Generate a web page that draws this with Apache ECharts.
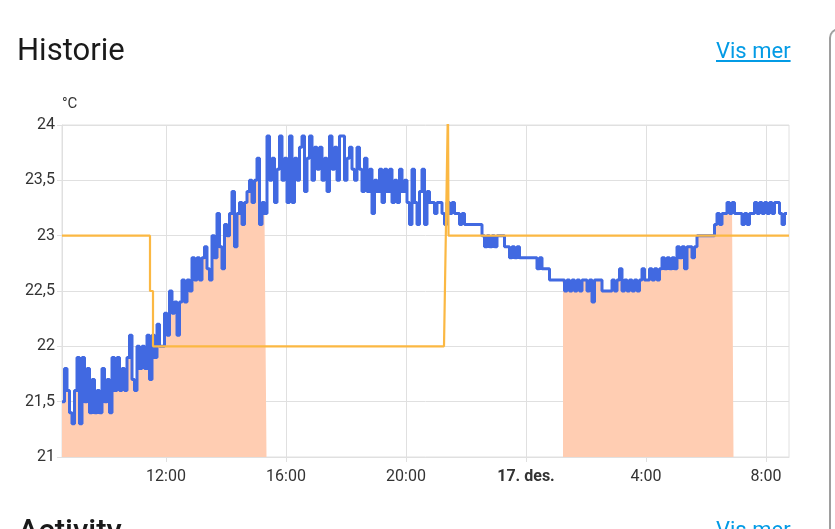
<!DOCTYPE html>
<html>
<head>
<meta charset="utf-8">
<script src="https://cdn.jsdelivr.net/npm/echarts@6/dist/echarts.min.js"></script>
<style>
  html, body { margin: 0; padding: 0; background: #fff; overflow: hidden; }
  body { width: 835px; height: 529px; position: relative; font-family: Roboto, "Noto Sans", sans-serif; }
  #chart { position: absolute; left: 0; top: 0; width: 835px; height: 529px; }
  .title { position: absolute; left: 17px; font-size: 31px; color: #1a1a1a; line-height: 1; }
  .link { position: absolute; left: 716px; font-size: 22px; color: #039be5; text-decoration: underline; line-height: 1; }
  .edge { position: absolute; left: 829px; top: 28px; width: 30px; height: 600px;
          border-left: 2px solid #9e9e9e; border-top: 2px solid #9e9e9e; border-top-left-radius: 10px; }
</style>
</head>
<body>
<div id="chart"></div>
<div class="title" style="top:34px">Historie</div>
<div class="link" style="top:40px">Vis mer</div>
<div class="title" style="top:515px;left:18px;font-weight:500">Activity</div>
<div class="link" style="top:519px">Vis mer</div>
<div class="edge"></div>
<script>
// current temperature, one reading every 5 minutes from tempStart
const tempStart = '2023-12-16T08:32:00'
const tempStepMinutes = 5
const currentTemp = [
  21.5, 21.8, 21.6, 21.4, 21.3, 21.6, 21.9, 21.3, 21.9, 21.5, 21.8, 21.4,
  21.7, 21.4, 21.6, 21.4, 21.8, 21.5, 21.7, 21.4, 21.9, 21.6, 21.9, 21.6,
  21.8, 21.6, 21.9, 22.1, 21.7, 21.6, 22.0, 21.8, 22.0, 21.8, 22.1, 21.7,
  22.1, 21.9, 22.2, 22.0, 22.0, 22.3, 22.1, 22.5, 22.3, 22.4, 22.1, 22.4,
  22.6, 22.4, 22.6, 22.5, 22.8, 22.6, 22.8, 22.6, 22.8, 22.9, 22.7, 22.6,
  23.0, 22.8, 23.2, 22.9, 22.7, 23.1, 23.0, 23.2, 23.4, 22.9, 23.2, 23.3,
  23.1, 23.3, 23.4, 23.5, 23.3, 23.5, 23.7, 23.1, 23.3, 23.2, 23.9, 23.5,
  23.7, 23.3, 23.6, 23.9, 23.5, 23.7, 23.3, 23.9, 23.3, 23.7, 23.5, 23.8,
  23.9, 23.4, 23.7, 23.9, 23.5, 23.8, 23.6, 23.8, 23.5, 23.7, 23.4, 23.9,
  23.6, 23.8, 23.5, 23.9, 23.9, 23.5, 23.7, 23.8, 23.6, 23.5, 23.8, 23.6,
  23.4, 23.7, 23.4, 23.6, 23.2, 23.5, 23.4, 23.6, 23.3, 23.6, 23.4, 23.6,
  23.3, 23.5, 23.3, 23.6, 23.4, 23.5, 23.3, 23.1, 23.6, 23.3, 23.1, 23.4,
  23.6, 23.1, 23.4, 23.3, 23.3, 23.2, 23.3, 23.3, 23.2, 23.1, 23.3, 23.2,
  23.3, 23.2, 23.2, 23.1, 23.2, 23.1, 23.1, 23.1, 23.1, 23.1, 23.1, 23.1,
  23.0, 22.9, 23.0, 22.9, 23.0, 22.9, 23.0, 23.0, 23.0, 22.9, 22.9, 22.8,
  22.9, 22.8, 22.9, 22.8, 22.8, 22.8, 22.8, 22.8, 22.8, 22.8, 22.7, 22.8,
  22.7, 22.7, 22.7, 22.6, 22.6, 22.6, 22.6, 22.6, 22.6, 22.5, 22.6, 22.5,
  22.6, 22.5, 22.6, 22.5, 22.6, 22.6, 22.5, 22.6, 22.4, 22.6, 22.6, 22.6,
  22.5, 22.5, 22.5, 22.5, 22.6, 22.5, 22.6, 22.7, 22.5, 22.6, 22.5, 22.6,
  22.5, 22.6, 22.5, 22.6, 22.7, 22.6, 22.6, 22.7, 22.6, 22.7, 22.6, 22.7,
  22.8, 22.7, 22.8, 22.7, 22.8, 22.7, 22.9, 22.8, 22.9, 22.7, 22.9, 22.9,
  22.8, 22.9, 23.0, 23.0, 23.0, 23.0, 23.0, 23.0, 23.0, 23.1, 23.2, 23.1,
  23.2, 23.2, 23.3, 23.2, 23.3, 23.2, 23.2, 23.2, 23.1, 23.2, 23.1, 23.2,
  23.2, 23.3, 23.2, 23.3, 23.2, 23.3, 23.2, 23.3, 23.2, 23.3, 23.3, 23.2,
  23.1, 23.2, 23.2
]
const heatingPeriods = [
  ['2023-12-16T08:32:00', '2023-12-16T15:20:00'],
  ['2023-12-17T01:14:00', '2023-12-17T06:54:00']
]
const targetTemp = [
  ['2023-12-16T08:32:00', 23],
  ['2023-12-16T11:28:00', 23],
  ['2023-12-16T11:28:00', 22.5],
  ['2023-12-16T11:34:00', 22.5],
  ['2023-12-16T11:34:00', 22],
  ['2023-12-16T21:16:00', 22],
  ['2023-12-16T21:24:00', 24.2],
  ['2023-12-16T21:25:00', 23],
  ['2023-12-17T08:46:00', 23]
]
const xMin = '2023-12-16T08:32:00'
const xMax = '2023-12-17T08:46:00'
const xTicks = ['2023-12-16T12:00:00', '2023-12-16T16:00:00', '2023-12-16T20:00:00',
  '2023-12-17T00:00:00', '2023-12-17T04:00:00', '2023-12-17T08:00:00']
const xTickLabels = ['12:00', '16:00', '20:00', '17. des.', '4:00', '8:00']

const t = s => new Date(s).getTime()
const t0 = t(tempStart)
const tempData = currentTemp.map((v, i) => [t0 + i * tempStepMinutes * 60000, v])

// heating fill follows the current temperature inside each heating period
const heatingData = []
heatingPeriods.forEach(([a, b]) => {
  const s = t(a), e = t(b)
  const before = tempData.filter(p => p[0] <= s).pop()
  const inside = tempData.filter(p => p[0] > s && p[0] <= e)
  heatingData.push([s, before[1]], ...inside, [e, inside[inside.length - 1][1]])
  heatingData.push([e + 60000, '-'])
})

const tickValues = xTicks.map(t)
const gridColor = '#e0e0e0'
const chart = echarts.init(document.getElementById('chart'))
chart.setOption({
  animation: false,
  grid: { left: 62, right: 46, top: 125, bottom: 72, show: true, borderColor: gridColor, borderWidth: 1 },
  xAxis: {
    type: 'value',
    min: t(xMin),
    max: t(xMax),
    axisLine: { show: true, lineStyle: { color: gridColor } },
    axisTick: { show: true, length: 5, lineStyle: { color: gridColor }, customValues: tickValues },
    splitLine: { show: true, lineStyle: { color: gridColor } },
    axisLabel: {
      customValues: tickValues,
      margin: 12,
      fontSize: 16,
      fontFamily: 'Roboto',
      color: '#333',
      formatter: v => {
        const k = tickValues.indexOf(v)
        const lbl = k >= 0 ? xTickLabels[k] : ''
        return lbl.indexOf('des') >= 0 ? '{b|' + lbl + '}' : lbl
      },
      rich: { b: { fontWeight: 'bold', fontSize: 16, fontFamily: 'Roboto', color: '#333' } }
    }
  },
  yAxis: {
    type: 'value',
    min: 21,
    max: 24,
    interval: 0.5,
    name: '°C',
    nameLocation: 'end',
    nameGap: 13,
    nameTextStyle: { align: 'left', fontSize: 15, fontFamily: 'Roboto', color: '#333' },
    axisLine: { show: true, lineStyle: { color: gridColor } },
    axisTick: { show: true, length: 5, lineStyle: { color: gridColor } },
    splitLine: { show: true, lineStyle: { color: gridColor } },
    axisLabel: {
      margin: 7,
      fontSize: 16,
      fontFamily: 'Roboto',
      color: '#333',
      formatter: v => String(v).replace('.', ',')
    }
  },
  series: [
    {
      name: 'Oppvarming',
      type: 'line',
      step: 'end',
      showSymbol: false,
      data: heatingData,
      lineStyle: { width: 1, color: '#f27a3c' },
      areaStyle: { color: '#ffcdb2', opacity: 1, origin: 'start' },
      z: 1
    },
    {
      name: 'Nåværende temperatur',
      type: 'line',
      step: 'end',
      showSymbol: false,
      data: tempData,
      lineStyle: { width: 3, color: '#4169e1' },
      z: 2
    },
    {
      name: 'Måltemperatur',
      type: 'line',
      showSymbol: false,
      data: targetTemp.map(p => [t(p[0]), p[1]]),
      lineStyle: { width: 2.2, color: '#fbb843' },
      z: 3
    }
  ]
})
</script>
</body>
</html>
